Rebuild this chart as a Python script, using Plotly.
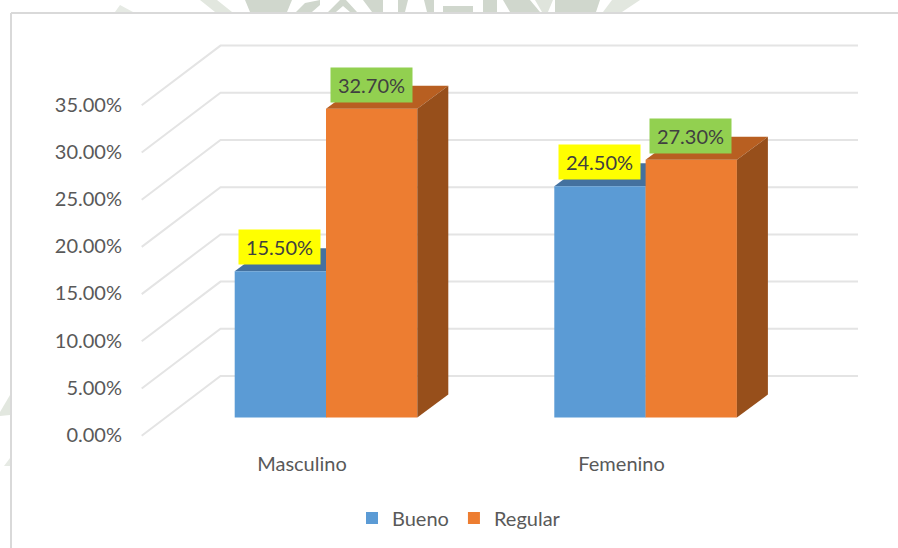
import plotly.graph_objects as go

# Data
categories = ["Masculino", "Femenino"]
bueno = [15.5, 24.5]
regular = [32.7, 27.3]
bueno_labels = ["15.50%", "24.50%"]
regular_labels = ["32.70%", "27.30%"]
tick_values = [0, 5, 10, 15, 20, 25, 30, 35]
tick_labels = ["0.00%", "5.00%", "10.00%", "15.00%", "20.00%", "25.00%", "30.00%", "35.00%"]

W, H = 898, 548
# plot window in page pixels
L, R, T, B = 130, 870, 30, 450
X0_PX, X_UNIT = 326.0, 319.6      # category 0 centre, px per category
Y0_PX, Y_UNIT = 417.5, 9.44       # bar base, px per percentage point


def xr(shift_px=0):
    return [(L - X0_PX + shift_px) / X_UNIT, (R - X0_PX + shift_px) / X_UNIT]


def yr(shift_px=0):
    return [(Y0_PX - B + shift_px) / Y_UNIT, (Y0_PX - T + shift_px) / Y_UNIT]


BAR_W = 91.3 / X_UNIT
DX = 31 / X_UNIT                 # oblique depth of bars
DY = 23 / Y_UNIT
BACK_Y = (417.5 - 376) / Y_UNIT  # wall floor relative to bar base
FRONT_Y = (417.5 - 435.7) / Y_UNIT
WALL_X = (220.5 - X0_PX) / X_UNIT
FRONT_X = (141.7 - X0_PX) / X_UNIT
END_X = (858 - X0_PX) / X_UNIT

BLUE, BLUE_TOP, BLUE_SIDE = "#5b9bd5", "#44719f", "#3b6690"
ORANGE, ORANGE_TOP, ORANGE_SIDE = "#ed7d31", "#b85f21", "#974f1b"
GRID = "#e4e4e4"
TEXT = "#595959"
WATERMARK = "#d0d7cd"
FONT = "Lato"
FS = 20

fig = go.Figure()

# Walls: grid lines run along the side wall, then the back wall
for v in tick_values:
    fig.add_trace(go.Scatter(
        x=[FRONT_X, WALL_X, END_X],
        y=[v + FRONT_Y, v + BACK_Y, v + BACK_Y],
        mode="lines", line=dict(color=GRID, width=2),
        showlegend=False, hoverinfo="skip", xaxis="x", yaxis="y"))


def depth_faces(xpos, val, lo, hi, top, side, xa, ya):
    """Oblique top and side of one bar, derived from its value."""
    a, b = xpos + lo, xpos + hi
    fig.add_trace(go.Scatter(
        x=[a, b, b + DX, a + DX, a], y=[val, val, val + DY, val + DY, val],
        mode="lines", fill="toself", fillcolor=top, line=dict(width=0, color=top),
        showlegend=False, hoverinfo="skip", xaxis=xa, yaxis=ya))
    fig.add_trace(go.Scatter(
        x=[b, b + DX, b + DX, b, b], y=[0, DY, val + DY, val, 0],
        mode="lines", fill="toself", fillcolor=side, line=dict(width=0, color=side),
        showlegend=False, hoverinfo="skip", xaxis=xa, yaxis=ya))


# Blue depth goes below the bars, so the orange front hides it
for i, v in enumerate(bueno):
    depth_faces(i, v, -BAR_W, 0, BLUE_TOP, BLUE_SIDE, "x", "y")

fig.add_trace(go.Bar(x=[0, 1], y=bueno, name="Bueno", marker=dict(color=BLUE, line=dict(width=0)),
                     xaxis="x2", yaxis="y2"))
fig.add_trace(go.Bar(x=[0, 1], y=regular, name="Regular", marker=dict(color=ORANGE, line=dict(width=0)),
                     xaxis="x2", yaxis="y2"))

for i, v in enumerate(regular):
    depth_faces(i, v, 0, BAR_W, ORANGE_TOP, ORANGE_SIDE, "x2", "y2")

# Holder for the shifted tick-label axes
fig.add_trace(go.Scatter(x=[0, 1], y=[0, 35], mode="markers", marker=dict(opacity=0),
                         showlegend=False, hoverinfo="skip", xaxis="x3", yaxis="y3"))

for i in range(2):
    for val, lab, lo, col in ((bueno[i], bueno_labels[i], -BAR_W, "#ffff00"),
                              (regular[i], regular_labels[i], 0, "#92d050")):
        fig.add_annotation(
            x=i + lo, y=val, xref="x2", yref="y2", xanchor="left", yanchor="bottom",
            xshift=3.5, yshift=6, text=lab, showarrow=False, width=81, height=34,
            bgcolor=col, borderpad=0, align="center",
            font=dict(family=FONT, size=FS, color="#404040"))

hidden = dict(visible=False, fixedrange=True)
dom_x = [L / W, R / W]
dom_y = [1 - B / H, 1 - T / H]


def page_poly(points, color=WATERMARK):
    path = "M" + " L".join(f"{x / W:.5f},{1 - y / H:.5f}" for x, y in points) + " Z"
    return dict(type="path", xref="paper", yref="paper", path=path,
                fillcolor=color, line=dict(width=0), layer="below")


# Fragments of the page watermark that show around the chart frame
band = 12
watermark = [
    page_poly([(115, band), (120, 5), (133, band)], "#e6eae4"),
    page_poly([(200, 0), (217, 0), (232, band), (215, band)], "#e2e7df"),
    page_poly([(245, 0), (292, 0), (287, band), (250, band)]),
    page_poly([(296, band), (305, 3), (320, 0), (320, 5), (312, band)]),
    page_poly([(328, band), (340, 0), (346, 0), (357, band), (350, band), (343, 6), (336, band)]),
    page_poly([(363, 0), (383, 0), (383, band), (372, band)]),
    page_poly([(398, 0), (408, 0), (405, band), (398, band)]),
    page_poly([(424, 0), (434, 0), (434, band), (427, band)]),
    page_poly([(443, 6), (473, 6), (473, band), (443, band)]),
    page_poly([(483, 0), (497, 0), (497, band), (483, band)]),
    page_poly([(503, 0), (530, 0), (540, band), (510, band)]),
    page_poly([(535, 0), (553, 0), (548, band), (542, band)], "#dfe4dc"),
    page_poly([(555, 0), (600, 0), (596, band), (555, band)]),
    page_poly([(612, 0), (640, 0), (622, band), (603, band)], "#e2e7df"),
    page_poly([(0, 412), (10, 395), (10, 415), (0, 416)], "#e2e7df"),
    page_poly([(4, 466), (10, 458), (10, 466)], "#e6eae4"),
]

fig.update_layout(
    width=W, height=H, autosize=False,
    margin=dict(l=0, r=0, t=0, b=0),
    paper_bgcolor="white", plot_bgcolor="rgba(0,0,0,0)",
    barmode="group", bargap=1 - 2 * BAR_W, bargroupgap=0,
    font=dict(family=FONT, size=FS, color=TEXT),
    xaxis=dict(domain=dom_x, range=xr(), **hidden),
    yaxis=dict(domain=dom_y, range=yr(), **hidden),
    xaxis2=dict(domain=dom_x, range=xr(), overlaying="x", **hidden),
    yaxis2=dict(domain=dom_y, range=yr(), overlaying="y", **hidden),
    xaxis3=dict(domain=dom_x, range=xr(24), overlaying="x", anchor="y3", tickmode="array",
                tickvals=[0, 1], ticktext=categories, showgrid=False, zeroline=False,
                showline=False, ticks="", ticklabelstandoff=0, fixedrange=True),
    yaxis3=dict(domain=dom_y, range=yr(17.5), overlaying="y", anchor="x3", tickmode="array",
                tickvals=tick_values, ticktext=tick_labels, showgrid=False, zeroline=False,
                showline=False, ticks="", ticklabelstandoff=7, fixedrange=True),
    legend=dict(orientation="h", x=(449 + 10) / W, xanchor="center", y=1 - 518 / H, yanchor="middle",
                font=dict(family=FONT, size=FS, color=TEXT), bgcolor="rgba(0,0,0,0)",
                traceorder="normal"),
    shapes=watermark + [
        dict(type="line", xref="paper", yref="paper", x0=11 / W, x1=1, y0=1 - 13 / H, y1=1 - 13 / H,
             line=dict(color="#d9d9d9", width=2), layer="below"),
        dict(type="line", xref="paper", yref="paper", x0=11 / W, x1=11 / W, y0=0, y1=1 - 13 / H,
             line=dict(color="#d9d9d9", width=2), layer="below"),
    ],
)

fig.write_html(
    "out.html",
    config={"displayModeBar": False},
    post_script="document.body.style.margin='0';document.body.style.overflow='hidden';",
)
